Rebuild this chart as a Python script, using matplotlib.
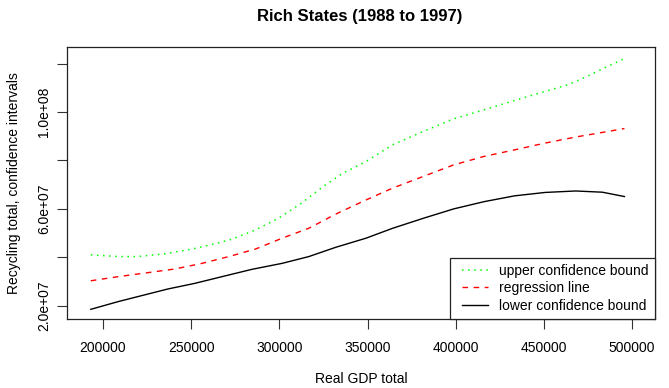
import matplotlib
matplotlib.use("Agg")
import matplotlib.pyplot as plt
from matplotlib.legend_handler import HandlerLine2D

plt.rcParams['font.family'] = ['Liberation Sans', 'DejaVu Sans']

gdp = [193084, 208646, 219452, 234582, 249712, 264841, 273487, 286455, 299424,
       312392, 325360, 336167, 349135, 364265, 381556, 398847, 416138, 433429,
       450720, 463689, 474496, 485303, 495029]
upper = [4.10e7, 4.03e7, 4.03e7, 4.14e7, 4.33e7, 4.58e7, 4.76e7, 5.13e7, 5.61e7,
         6.23e7, 6.95e7, 7.48e7, 7.96e7, 8.65e7, 9.20e7, 9.72e7, 1.0097e8, 1.0483e8,
         1.0855e8, 1.113e8, 1.1476e8, 1.186e8, 1.219e8]

gdp_r = [193084, 208646, 225936, 241066, 256196, 271326, 286455, 301585, 316715,
         331845, 349135, 364265, 381556, 398847, 416138, 433429, 450720, 467999,
         483140, 495676]
regression = [3.03e7, 3.20e7, 3.37e7, 3.52e7, 3.75e7, 4.03e7, 4.34e7, 4.79e7, 5.20e7,
              5.78e7, 6.37e7, 6.86e7, 7.34e7, 7.82e7, 8.17e7, 8.44e7, 8.72e7, 8.97e7,
              9.16e7, 9.32e7]

gdp_l = [193084, 208646, 221614, 236744, 251874, 269165, 284294, 301585, 316715,
         331845, 349135, 364265, 381556, 398847, 416138, 433429, 450720, 467999,
         483140, 495676]
lower = [1.85e7, 2.17e7, 2.41e7, 2.69e7, 2.92e7, 3.23e7, 3.50e7, 3.75e7, 4.03e7,
         4.41e7, 4.79e7, 5.20e7, 5.61e7, 6.00e7, 6.30e7, 6.54e7, 6.68e7, 6.74e7,
         6.69e7, 6.51e7]

xticks = [200000, 250000, 300000, 350000, 400000, 450000, 500000]
yticks = [2e7, 4e7, 6e7, 8e7, 1e8, 1.2e8]
ytick_labels = ["2.0e+07", "", "6.0e+07", "", "1.0e+08", ""]

fig = plt.figure(figsize=(6.69, 3.88), dpi=100)
ax = fig.add_axes([67/669, 1-319/388, (655-67)/669, (319-47)/388])

ax.plot(gdp, upper, color="#00ff00", linestyle=(0, (1, 3)), linewidth=1.1,
        label="upper confidence bound")
ax.plot(gdp_r, regression, color="red", linestyle=(0, (4, 4)), linewidth=1.0,
        label="regression line")
ax.plot(gdp_l, lower, color="black", linestyle="-", linewidth=1.0,
        label="lower confidence bound")

ax.set_xlim(179580, 513000)
ax.set_ylim(1.45e7, 1.269e8)

ax.set_xticks(xticks)
ax.set_xticklabels([str(v) for v in xticks], fontsize=10)
ax.set_yticks(yticks)
ax.set_yticklabels(ytick_labels, fontsize=10, rotation=90, va="center")
ax.tick_params(direction="out", length=7, width=0.8, color="#333333")
ax.tick_params(axis="x", pad=9)
ax.tick_params(axis="y", pad=4.5)

for s in ax.spines.values():
    s.set_linewidth(0.9)
    s.set_color("#222222")

ax.set_xlabel("Real GDP total", fontsize=10, labelpad=12)
ax.set_ylabel("Recycling total, confidence intervals", fontsize=10, labelpad=11.5)
fig.text(360/669, 1-16/388, "Rich States (1988 to 1997)", fontsize=12,
         fontweight="bold", ha="center", va="center")

hm = {l: HandlerLine2D(xpad=0.46) for l in ax.get_lines()}
leg = ax.legend(loc="lower right", borderaxespad=0, fancybox=False,
                edgecolor="#222222", fontsize=10, handlelength=2.33,
                handletextpad=0.8, labelspacing=0.25, borderpad=0.45,
                framealpha=1, handler_map=hm)
leg.get_frame().set_linewidth(0.9)

fig.savefig("out.png", dpi=100)
